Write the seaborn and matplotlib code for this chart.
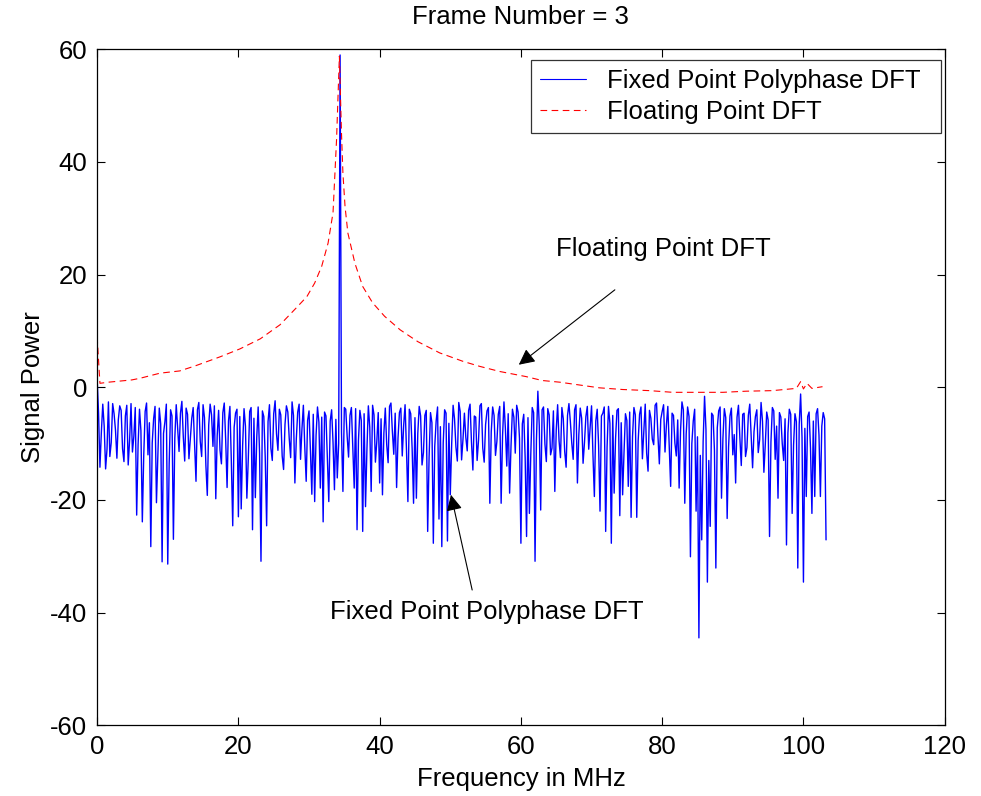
import numpy as np
import pandas as pd
import matplotlib
matplotlib.use("Agg")
import matplotlib.pyplot as plt
import seaborn as sns

# ---------------- Data ----------------
bin_step_mhz = 0.2

# fixed point polyphase DFT, one value per 0.2 MHz bin
fixed_power = [
    1.5, -4.5, -14.2, -8.0, -3.0, -6.9, -14.5, -11.0, -2.6, -12.3, -9.8, -2.9, -4.7, -7.6, -12.6, -5.8, -3.3, -4.1, -10.9, -13.2,
    -5.1, -3.2, -13.8, -9.4, -2.9, -11.5, -8.7, -3.6, -22.7, -10.2, -3.9, -7.7, -23.9, -12.1, -4.3, -2.8, -12.0, -6.3, -28.3, -9.9,
    -5.6, -3.4, -20.5, -11.8, -3.7, -6.5, -31.0, -8.2, -6.1, -3.0, -31.4, -13.6, -4.0, -5.1, -27.0, -9.0, -3.1, -7.3, -11.4, -4.6,
    -2.5, -8.8, -13.1, -3.7, -4.8, -12.7, -9.2, -5.5, -3.6, -10.1, -16.7, -4.0, -2.7, -9.6, -12.3, -3.1, -5.4, -13.9, -19.2, -6.7,
    -3.0, -4.9, -10.5, -3.3, -19.8, -8.6, -4.1, -11.2, -13.6, -4.5, -2.8, -9.3, -17.8, -6.0, -3.4, -13.0, -24.6, -7.1, -4.6, -3.9,
    -23.0, -5.2, -21.6, -10.4, -3.8, -6.9, -19.7, -12.8, -4.3, -3.6, -25.3, -5.5, -19.6, -8.9, -3.5, -11.7, -30.9, -4.2, -5.2, -12.4,
    -24.6, -6.1, -3.1, -10.8, -13.0, -4.7, -2.4, -8.3, -11.2, -3.9, -4.9, -12.2, -14.6, -6.6, -3.3, -4.4, -9.1, -12.5, -2.6, -5.0,
    -17.0, -9.2, -4.4, -3.0, -12.8, -7.4, -3.2, -10.6, -16.7, -5.9, -4.2, -11.3, -19.0, -4.8, -20.3, -8.5, -3.5, -6.2, -17.9, -5.3,
    -23.9, -4.4, -5.1, -12.9, -20.3, -6.0, -4.0, -9.8, -18.2, -5.7, -16.1, -10.0, 59.0, -8.0, -18.5, -3.6, -3.9, -8.7, -12.4, -5.0,
    -3.6, -10.7, -17.9, -3.8, -25.3, -9.4, -4.1, -5.9, -25.6, -4.7, -21.2, -11.0, -3.3, -7.1, -18.5, -3.2, -4.9, -13.3, -9.6, -4.5,
    -17.0, -5.6, -19.1, -8.1, -3.7, -10.2, -13.4, -3.4, -2.8, -7.8, -11.9, -4.6, -17.8, -9.0, -4.5, -3.7, -12.2, -6.8, -3.1, -11.1,
    -20.3, -3.9, -4.7, -10.9, -20.6, -5.4, -19.7, -8.2, -3.4, -5.1, -13.8, -11.6, -5.0, -4.1, -25.6, -12.4, -4.5, -6.3, -27.7, -10.5,
    -6.0, -3.5, -23.4, -7.0, -28.3, -9.9, -4.0, -4.6, -27.3, -6.4, -19.1, -10.0, -3.2, -5.6, -10.6, -13.1, -2.7, -4.3, -12.9, -9.2,
    -4.6, -8.9, -11.3, -4.1, -3.0, -9.7, -14.7, -5.1, -5.3, -13.0, -9.4, -3.3, -2.9, -10.8, -13.3, -6.6, -4.2, -3.6, -20.6, -7.9,
    -3.5, -5.0, -12.1, -9.6, -4.8, -3.4, -20.6, -8.7, -2.6, -7.3, -14.0, -4.7, -18.8, -10.4, -3.9, -5.3, -11.7, -3.2, -4.4, -9.1,
    -27.7, -6.5, -4.8, -12.5, -26.5, -5.4, -22.4, -11.9, -3.6, -4.5, -30.9, -9.3, -0.7, -6.8, -21.8, -4.0, -3.5, -10.1, -13.2, -3.8,
    -4.9, -12.0, -10.8, -4.2, -18.5, -7.6, -3.1, -9.5, -12.5, -3.6, -5.6, -11.4, -14.2, -5.0, -2.9, -6.1, -9.9, -12.8, -4.0, -3.1,
    -17.0, -8.4, -3.7, -5.5, -13.5, -9.8, -5.2, -3.4, -11.0, -7.2, -3.3, -12.0, -19.4, -6.0, -3.9, -10.3, -22.0, -5.1, -4.6, -3.5,
    -25.6, -10.6, -3.4, -6.4, -27.7, -5.0, -18.8, -9.1, -4.1, -3.8, -22.8, -6.3, -19.1, -11.5, -4.7, -5.9, -17.6, -4.4, -23.1, -8.8,
    -3.6, -4.9, -23.1, -9.5, -4.8, -3.5, -12.7, -8.0, -3.0, -11.7, -14.9, -4.1, -5.5, -9.2, -10.2, -3.2, -2.8, -8.6, -13.6, -5.7,
    -4.3, -3.1, -11.5, -6.7, -3.4, -10.5, -17.6, -4.6, -5.0, -9.9, -12.2, -5.8, -17.9, -7.7, -2.6, -4.0, -20.6, -8.3, -3.5, -5.2,
    -30.1, -10.0, -6.0, -3.9, -22.0, -8.8, -44.5, -12.1, -27.1, -9.6, -1.6, -7.5, -34.6, -13.0, -24.7, -4.6, -5.0, -11.2, -32.1, -7.2,
    -4.2, -3.5, -19.7, -9.1, -3.8, -5.4, -23.3, -10.6, -5.1, -3.7, -12.0, -8.4, -17.0, -5.3, -3.2, -9.0, -13.9, -4.8, -4.6, -12.3,
    -10.7, -5.0, -3.0, -8.5, -14.3, -7.9, -5.2, -4.0, -11.6, -9.3, -2.7, -6.0, -15.1, -10.1, -4.4, -5.8, -26.5, -9.7, -3.6, -4.2,
    -12.8, -6.9, -19.7, -4.5, -5.3, -10.0, -13.0, -5.6, -28.0, -8.1, -3.9, -4.8, -22.4, -10.3, -4.7, -6.1, -32.1, -6.6, -1.2, -8.9,
    -34.6, -7.3, -19.4, -5.2, -4.4, -10.8, -22.4, -6.0, -19.4, -4.7, -3.8, -8.5, -19.4, -6.9, -4.5, -5.6, -27.1,
]
fixed_freq = np.arange(len(fixed_power)) * bin_step_mhz

# floating point DFT (smooth curve)
float_freq = [0, 0.4, 1.6, 4.9, 6.1, 8.9, 11.7, 13.9, 17.4, 20.2, 23.1, 25.9,
              28.2, 29.7, 30.8, 31.8, 32.7, 33.4, 33.9, 34.3, 34.6, 34.8,
              35.1, 35.5, 36.5, 37.6, 39.0, 40.7, 42.9, 45.4, 48.5, 51.8,
              54.2, 57.0, 60.7, 63.0, 65.5, 68.3, 71.1, 74.4, 78.2, 81.5,
              85.3, 88.6, 91.9, 95.6, 99.0, 99.6, 100.0, 100.5, 101.2, 102.7]
float_power = [9.0, 0.7, 0.9, 1.3, 1.6, 2.5, 2.9, 3.8, 5.4, 6.8, 8.6, 11.1,
               14.1, 16.1, 18.5, 21.5, 25.6, 31.0, 44.0, 58.8, 45.0, 38.0,
               32.1, 27.4, 22.0, 17.9, 15.0, 12.6, 10.2, 8.1, 6.1, 4.6,
               3.7, 2.8, 1.9, 1.2, 0.9, 0.4, -0.1, -0.4, -0.6, -0.9,
               -0.9, -0.9, -0.7, -0.6, -0.2, 1.0, -0.3, 0.7, -0.2, 0.1]

x_ticks = [0, 20, 40, 60, 80, 100, 120]
y_ticks = [-60, -40, -20, 0, 20, 40, 60]

fixed_df = pd.DataFrame({"freq": fixed_freq, "power": fixed_power})
float_df = pd.DataFrame({"freq": float_freq, "power": float_power})

# ---------------- Style ----------------
sns.set_style("white")
plt.rcParams["font.family"] = ["Liberation Sans", "DejaVu Sans"]
plt.rcParams["axes.unicode_minus"] = False
plt.rcParams["text.color"] = "black"
plt.rcParams["axes.labelcolor"] = "black"
plt.rcParams["xtick.color"] = "black"
plt.rcParams["ytick.color"] = "black"
FS = 18.5

fig = plt.figure(figsize=(9.81, 7.96), dpi=100)
ax = fig.add_axes([0.099, 0.089, 0.864, 0.849])

sns.lineplot(data=fixed_df, x="freq", y="power", ax=ax, color="#0000ff",
             lw=1.0, estimator=None, sort=False, label="Fixed Point Polyphase DFT")
sns.lineplot(data=float_df, x="freq", y="power", ax=ax, color="#ff0000",
             lw=0.8, estimator=None, sort=False, linestyle="--",
             label="Floating Point DFT")
ax.lines[-1].set_dashes((6, 4))

ax.set_xlim(0, 120)
ax.set_ylim(-60, 60)
ax.set_xticks(x_ticks)
ax.set_yticks(y_ticks)
ax.tick_params(direction="in", top=True, right=True, bottom=True, left=True,
               length=6, width=0.8, labelsize=FS, pad=7)
for s in ax.spines.values():
    s.set_color("black")
    s.set_linewidth(0.9)

ax.set_title("Frame Number = 3", fontsize=FS, pad=18)
ax.set_xlabel("Frequency in MHz", fontsize=FS, labelpad=6)
ax.set_ylabel("Signal Power", fontsize=FS, labelpad=4)

# legend box spans the same width as in the original figure
leg = ax.legend(loc="upper left", bbox_to_anchor=(0.5118, 0.0, 0.4835, 0.9837),
                mode="expand", borderaxespad=0, fontsize=FS, frameon=True,
                fancybox=False, handlelength=1.8, handletextpad=0.8,
                labelspacing=0.25, borderpad=0.35)
leg.get_frame().set_edgecolor("black")
leg.get_frame().set_linewidth(0.9)
leg.get_lines()[0].set_linewidth(0.8)
leg.get_lines()[1].set_dashes((6, 4))

# ---------------- Annotations ----------------
ax.text(80.1, 24.6, "Floating Point DFT", fontsize=FS, ha="center", va="center")
ax.annotate("", xy=(59.7, 4.0), xytext=(73.3, 17.3),
            arrowprops=dict(arrowstyle="-|>", color="black", lw=0.8,
                            mutation_scale=24, shrinkA=0, shrinkB=0))
ax.text(55.2, -39.9, "Fixed Point Polyphase DFT", fontsize=FS,
        ha="center", va="center")
ax.annotate("", xy=(50.1, -19.1), xytext=(53.1, -36.0),
            arrowprops=dict(arrowstyle="-|>", color="black", lw=0.8,
                            mutation_scale=24, shrinkA=0, shrinkB=0))

fig.savefig("out.png", dpi=100)
